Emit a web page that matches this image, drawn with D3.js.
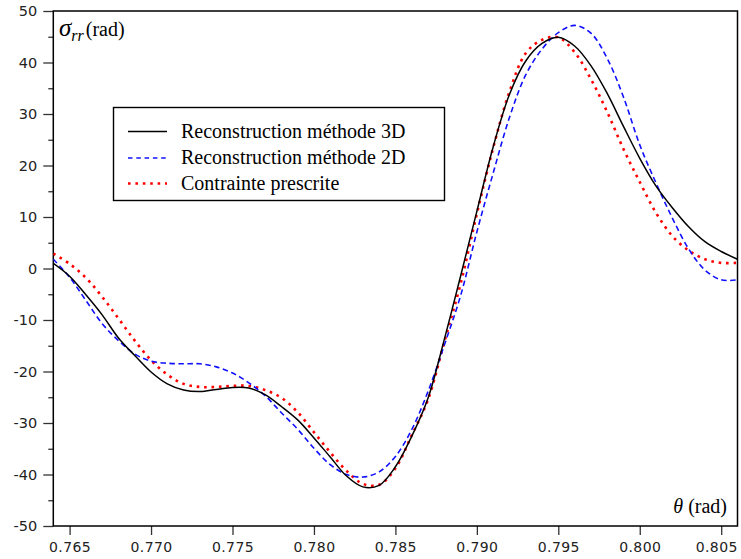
<!DOCTYPE html>
<html><head><meta charset="utf-8">
<script src="https://cdn.jsdelivr.net/npm/d3@7"></script>
<style>body{margin:0;background:#fff}svg{display:block}</style>
</head><body>
<svg id="chart" width="741" height="559"></svg>
<script>
// ---- data ----
const theta = [0.764,0.765,0.766,0.767,0.768,0.769,0.770,0.771,0.772,0.773,0.774,0.775,0.776,0.777,0.778,0.779,0.780,0.781,0.782,0.783,0.784,0.785,0.786,0.787,0.788,0.789,0.790,0.791,0.792,0.793,0.794,0.795,0.796,0.797,0.798,0.799,0.800,0.801,0.802,0.803,0.804,0.805,0.806];
const recon3D = [1.0,-1.5,-5.1,-9.0,-13.5,-16.9,-20.1,-22.4,-23.6,-23.9,-23.5,-23.1,-23.2,-24.5,-26.8,-29.4,-32.9,-36.6,-40.3,-42.4,-42.1,-38.5,-32.6,-25.2,-13.8,-1.5,11.1,23.6,33.8,40.3,43.7,44.9,43.2,39.4,34.0,27.6,21.4,16.0,11.8,8.1,5.2,3.3,1.8];
const recon2D = [1.8,-1.7,-6.2,-10.7,-14.0,-16.6,-18.0,-18.4,-18.5,-18.5,-19.1,-20.3,-22.2,-24.7,-28.0,-31.2,-34.9,-38.1,-40.0,-40.5,-39.5,-36.5,-31.3,-23.9,-14.9,-5.3,7.1,18.5,29.3,37.6,42.6,45.8,47.2,45.7,40.8,33.3,24.0,16.6,9.8,3.8,-0.3,-2.2,-2.2];
const prescrite = [2.9,0.9,-1.8,-5.5,-9.7,-14.0,-17.8,-20.6,-22.4,-23.0,-23.0,-22.8,-22.8,-23.6,-25.1,-27.9,-31.8,-35.7,-39.3,-41.8,-42.0,-38.8,-32.4,-25.5,-14.3,-3.0,10.6,23.4,34.3,41.8,44.4,44.9,42.0,36.8,30.4,23.2,16.8,10.8,6.3,3.5,1.8,1.1,1.1];
const xTicks = [0.765,0.770,0.775,0.780,0.785,0.790,0.795,0.800,0.805];
const xTickLabels = ["0.765","0.770","0.775","0.780","0.785","0.790","0.795","0.800","0.805"];
const yTicks = [-50,-40,-30,-20,-10,0,10,20,30,40,50];
const yMinorTicks = [-45,-35,-25,-15,-5,5,15,25,35,45];
const legendLabels = ["Reconstruction méthode 3D","Reconstruction méthode 2D","Contrainte prescrite"];

// ---- layout ----
const L = 53.3, R = 737.5, T = 11, B = 526;
const svg = d3.select("#chart");
const x = d3.scaleLinear().domain([0.764, 0.806]).range([L, R]);
const y = d3.scaleLinear().domain([-50, 50]).range([B, T]);

svg.append("defs").append("clipPath").attr("id","clip")
  .append("rect").attr("x",L).attr("y",T).attr("width",R-L).attr("height",B-T);

// axes
const tickColor = "#333";
const gx = svg.append("g").attr("transform",`translate(0,${B})`)
  .call(d3.axisBottom(x).tickValues(xTicks).tickSize(9).tickPadding(7)
    .tickFormat((d,i)=>xTickLabels[i]));
gx.select(".domain").remove();
gx.selectAll("line").attr("stroke",tickColor).attr("stroke-width",1.3);
gx.selectAll("text").attr("font-family","DejaVu Sans").attr("font-size",14)
  .attr("fill","#222").attr("letter-spacing","0.4px");
gx.selectAll("text").filter((d,i,n)=>i===n.length-1).attr("dx",-5);

const gy = svg.append("g").attr("transform",`translate(${L},0)`)
  .call(d3.axisLeft(y).tickValues(yTicks).tickSize(10).tickPadding(6).tickFormat(d=>d));
gy.select(".domain").remove();
gy.selectAll("line").attr("stroke",tickColor).attr("stroke-width",1.3);
gy.selectAll("text").attr("font-family","DejaVu Sans").attr("font-size",14.5).attr("fill","#222");

const gym = svg.append("g").attr("transform",`translate(${L},0)`)
  .call(d3.axisLeft(y).tickValues(yMinorTicks).tickSize(5).tickFormat(""));
gym.select(".domain").remove();
gym.selectAll("line").attr("stroke",tickColor).attr("stroke-width",1.3);

// frame
svg.append("rect").attr("x",L).attr("y",T).attr("width",R-L).attr("height",B-T)
  .attr("fill","none").attr("stroke","#000").attr("stroke-width",1.5);

// curves
const line = vals => d3.line().x((d,i)=>x(theta[i])).y(d=>y(d)).curve(d3.curveCatmullRom.alpha(0.5))(vals);
const gc = svg.append("g").attr("clip-path","url(#clip)");
gc.append("path").attr("d",line(prescrite)).attr("fill","none").attr("stroke","#ff0000")
  .attr("stroke-width",2.6).attr("stroke-dasharray","2.6,4.8");
gc.append("path").attr("d",line(recon2D)).attr("fill","none").attr("stroke","#1010ff")
  .attr("stroke-width",1.6).attr("stroke-dasharray","5.5,3.5");
gc.append("path").attr("d",line(recon3D)).attr("fill","none").attr("stroke","#000")
  .attr("stroke-width",1.5);

// axis titles
const yt = svg.append("text").attr("x",59).attr("y",36).attr("font-family","Liberation Serif").attr("fill","#000");
yt.append("tspan").attr("font-style","italic").attr("font-size",25).text("σ");
yt.append("tspan").attr("font-style","italic").attr("font-size",16).attr("dy",5).text("rr");
yt.append("tspan").attr("font-size",20).attr("dy",-5).attr("dx",2).text("(rad)");

const xtl = svg.append("text").attr("x",727).attr("y",513).attr("text-anchor","end")
  .attr("font-family","Liberation Serif").attr("font-size",20).attr("fill","#000");
xtl.append("tspan").attr("font-style","italic").text("θ");
xtl.append("tspan").text(" (rad)");

// legend
const lg = svg.append("g");
lg.append("rect").attr("x",113.5).attr("y",107.5).attr("width",331).attr("height",93)
  .attr("fill","#fff").attr("stroke","#000").attr("stroke-width",1.4);
const styles = [
  {c:"#000", w:1.5, d:null},
  {c:"#1010ff", w:1.6, d:"4.5,3.8"},
  {c:"#ff0000", w:2.6, d:"2.6,4.8"}
];
const rowsY = [131.5, 158, 183.5];
legendLabels.forEach((lab,i)=>{
  const l = lg.append("line").attr("x1",128).attr("x2",167).attr("y1",rowsY[i]).attr("y2",rowsY[i])
    .attr("stroke",styles[i].c).attr("stroke-width",styles[i].w);
  if (styles[i].d) l.attr("stroke-dasharray",styles[i].d);
  lg.append("text").attr("x",181).attr("y",rowsY[i]+6).attr("font-family","Liberation Serif")
    .attr("font-size",20).attr("fill","#000").text(lab);
});
</script>
</body></html>
